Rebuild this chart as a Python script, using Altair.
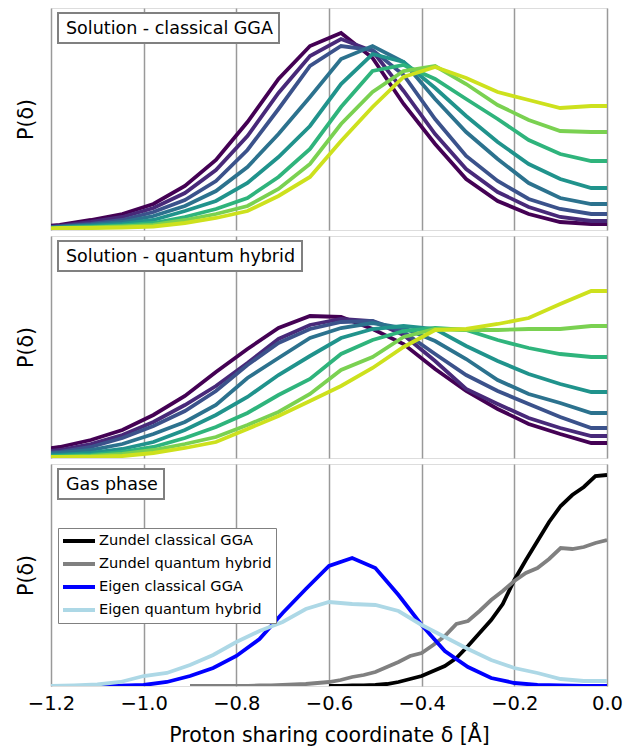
import altair as alt
import pandas as pd

FONT = "DejaVu Sans"

# ---------------- data ----------------
x_sol = [-1.249, -1.181, -1.114, -1.046, -0.979, -0.911, -0.844, -0.776, -0.709, -0.641,
         -0.574, -0.506, -0.439, -0.371, -0.304, -0.236, -0.169, -0.101, -0.034, 0.034]

sol_names = ["c0", "c1", "c2", "c3", "c4", "c5", "c6", "c7"]
sol_colors = ["#440154", "#482979", "#3b528b", "#2c728e", "#20938c", "#2fb47c", "#7ad151", "#cde11d"]

gga_c0 = [0.025, 0.05, 0.10, 0.16, 0.26, 0.44, 0.70, 1.08, 1.51, 1.84, 1.97, 1.72, 1.26, 0.86, 0.51, 0.29, 0.16, 0.08, 0.06, 0.06]
gga_c1 = [0.015, 0.04, 0.08, 0.13, 0.22, 0.37, 0.60, 0.94, 1.37, 1.74, 1.91, 1.79, 1.39, 0.96, 0.61, 0.38, 0.23, 0.13, 0.09, 0.09]
gga_c2 = [0.015, 0.035, 0.06, 0.10, 0.18, 0.30, 0.49, 0.80, 1.21, 1.64, 1.84, 1.80, 1.55, 1.11, 0.74, 0.49, 0.31, 0.21, 0.16, 0.16]
gga_c3 = [0.015, 0.03, 0.05, 0.08, 0.14, 0.24, 0.39, 0.63, 0.96, 1.33, 1.71, 1.84, 1.68, 1.31, 0.98, 0.71, 0.47, 0.32, 0.26, 0.26]
gga_c4 = [0.01, 0.025, 0.04, 0.06, 0.10, 0.19, 0.29, 0.47, 0.73, 1.04, 1.46, 1.76, 1.68, 1.42, 1.14, 0.88, 0.66, 0.51, 0.42, 0.42]
gga_c5 = [0.01, 0.02, 0.03, 0.045, 0.07, 0.13, 0.21, 0.32, 0.53, 0.81, 1.23, 1.59, 1.65, 1.51, 1.31, 1.11, 0.90, 0.76, 0.69, 0.69]
gga_c6 = [0.01, 0.02, 0.025, 0.035, 0.05, 0.10, 0.16, 0.24, 0.41, 0.66, 1.06, 1.38, 1.59, 1.64, 1.46, 1.25, 1.10, 0.99, 0.98, 0.98]
gga_c7 = [0.01, 0.02, 0.02, 0.025, 0.035, 0.07, 0.12, 0.19, 0.34, 0.53, 0.89, 1.23, 1.53, 1.63, 1.52, 1.38, 1.30, 1.22, 1.24, 1.24]

qh_c0 = [0.07, 0.11, 0.18, 0.28, 0.43, 0.62, 0.86, 1.09, 1.30, 1.42, 1.41, 1.29, 1.14, 0.89, 0.67, 0.49, 0.34, 0.24, 0.15, 0.15]
qh_c1 = [0.05, 0.08, 0.14, 0.23, 0.36, 0.53, 0.72, 0.95, 1.19, 1.33, 1.39, 1.37, 1.23, 0.97, 0.69, 0.54, 0.40, 0.30, 0.22, 0.22]
qh_c2 = [0.04, 0.06, 0.11, 0.20, 0.32, 0.47, 0.67, 0.93, 1.15, 1.29, 1.36, 1.37, 1.26, 1.04, 0.83, 0.67, 0.54, 0.41, 0.30, 0.30]
qh_c3 = [0.03, 0.05, 0.08, 0.14, 0.24, 0.36, 0.53, 0.80, 1.00, 1.20, 1.30, 1.35, 1.30, 1.17, 0.99, 0.78, 0.64, 0.55, 0.45, 0.45]
qh_c4 = [0.02, 0.03, 0.05, 0.09, 0.16, 0.28, 0.43, 0.61, 0.83, 1.02, 1.20, 1.29, 1.32, 1.29, 1.12, 0.97, 0.84, 0.74, 0.66, 0.66]
qh_c5 = [0.01, 0.02, 0.03, 0.06, 0.11, 0.20, 0.31, 0.45, 0.63, 0.79, 1.04, 1.18, 1.27, 1.30, 1.28, 1.18, 1.10, 1.04, 1.01, 1.01]
qh_c6 = [0.01, 0.01, 0.02, 0.04, 0.08, 0.14, 0.21, 0.33, 0.46, 0.64, 0.88, 1.01, 1.21, 1.29, 1.28, 1.28, 1.29, 1.29, 1.32, 1.32]
qh_c7 = [0.01, 0.01, 0.01, 0.02, 0.05, 0.10, 0.16, 0.29, 0.42, 0.57, 0.72, 0.90, 1.11, 1.28, 1.29, 1.34, 1.40, 1.54, 1.67, 1.67]

sol_gga = [gga_c0, gga_c1, gga_c2, gga_c3, gga_c4, gga_c5, gga_c6, gga_c7]
sol_qh = [qh_c0, qh_c1, qh_c2, qh_c3, qh_c4, qh_c5, qh_c6, qh_c7]

x_eigen = [-1.2, -1.15, -1.1, -1.05, -1.0, -0.95, -0.9, -0.85, -0.8, -0.75, -0.7, -0.65, -0.6,
           -0.55, -0.5, -0.45, -0.4, -0.35, -0.3, -0.25, -0.2, -0.15, -0.1, -0.05, 0.0]
eigen_gga = [0, 0, 0, 0.003, 0.01, 0.04, 0.10, 0.18, 0.30, 0.47, 0.73, 0.97, 1.20,
             1.28, 1.18, 0.91, 0.61, 0.35, 0.19, 0.08, 0.03, 0.01, 0.005, 0.002, 0]
eigen_qh = [0, 0.005, 0.015, 0.04, 0.10, 0.13, 0.21, 0.31, 0.44, 0.55, 0.64, 0.77, 0.84,
            0.82, 0.81, 0.75, 0.61, 0.49, 0.37, 0.26, 0.18, 0.13, 0.07, 0.05, 0.05]

x_zundel_gga = [-0.6, -0.575, -0.55, -0.525, -0.5, -0.475, -0.45, -0.425, -0.4, -0.375, -0.35, -0.325,
                -0.3, -0.275, -0.25, -0.225, -0.2, -0.175, -0.15, -0.125, -0.1, -0.075, -0.05, -0.025, 0.0]
zundel_gga = [0, 0, 0.005, 0.005, 0.01, 0.02, 0.04, 0.07, 0.10, 0.15, 0.20, 0.28,
              0.40, 0.53, 0.66, 0.82, 1.06, 1.26, 1.45, 1.64, 1.80, 1.91, 1.99, 2.10, 2.11]

x_zundel_qh = [-0.9, -0.875, -0.85, -0.825, -0.8, -0.775, -0.75, -0.725, -0.7, -0.675, -0.65, -0.625,
               -0.6, -0.575, -0.55, -0.525, -0.5, -0.475, -0.45, -0.425, -0.4, -0.375, -0.35, -0.325,
               -0.3, -0.275, -0.25, -0.225, -0.2, -0.175, -0.15, -0.125, -0.1, -0.075, -0.05, -0.025, 0.0]
zundel_qh = [0, 0, 0, 0, 0, 0, 0.005, 0.005, 0.01, 0.015, 0.02, 0.03,
             0.04, 0.06, 0.09, 0.11, 0.14, 0.19, 0.24, 0.30, 0.33, 0.41, 0.50, 0.62,
             0.65, 0.75, 0.86, 0.95, 1.05, 1.13, 1.18, 1.27, 1.38, 1.37, 1.39, 1.43, 1.46]

gas_names = ["Zundel classical GGA", "Zundel quantum hybrid", "Eigen classical GGA", "Eigen quantum hybrid"]
gas_colors = ["#000000", "#808080", "#0000ff", "#add8e6"]

panel_titles = ["Solution - classical GGA", "Solution - quantum hybrid", "Gas phase"]
x_ticks = [-1.2, -1.0, -0.8, -0.6, -0.4, -0.2, 0.0]

# ---------------- layout ----------------
W, H = 556, 222
YMAX = 2.22
GRID = "#999999"
LW = 3.8
TICK_FS = 19.5
TITLE_FS = 20.5


def x_axis(show):
    if show:
        return alt.Axis(values=x_ticks, format=".1f", grid=True, gridColor=GRID, gridWidth=1.5,
                        ticks=False, domain=False, labelFontSize=TICK_FS, labelFont=FONT,
                        labelColor="black", labelPadding=8, labelFlush=False,
                        labelOverlap=False,
                        title="Proton sharing coordinate δ [Å]", titleFontSize=TITLE_FS,
                        titleFont=FONT, titleFontWeight="normal", titleColor="black",
                        titlePadding=13)
    return alt.Axis(values=x_ticks, grid=True, gridColor=GRID, gridWidth=1.5, ticks=False,
                    domain=False, labels=False, title=None)


y_axis = alt.Axis(labels=False, ticks=False, domain=False, grid=False, title="P(δ)",
                  titleFontSize=TITLE_FS, titleFont=FONT, titleFontWeight="normal",
                  titleColor="black", titlePadding=15)

xs = alt.Scale(domain=[-1.2, 0.0], nice=False, zero=False)
ys = alt.Scale(domain=[0, YMAX], nice=False, zero=False)


def label_box(title, box_right):
    d = pd.DataFrame({"t": [title]})
    box = alt.Chart(d).mark_rect(fill="white", stroke="#808080", strokeWidth=2).encode(
        x=alt.value(7), x2=alt.value(box_right), y=alt.value(5), y2=alt.value(35))
    txt = alt.Chart(d).mark_text(align="left", baseline="alphabetic", fontSize=17.5,
                                 font=FONT, color="black").encode(
        x=alt.value(15), y=alt.value(26), text="t:N")
    return box, txt


def sol_panel(curves, title, box_right):
    rows = []
    for name, vals in zip(sol_names, curves):
        for xv, yv in zip(x_sol, vals):
            rows.append({"delta": xv, "P": yv, "curve": name})
    df = pd.DataFrame(rows)
    lines = alt.Chart(df).mark_line(strokeWidth=LW, clip=True).encode(
        x=alt.X("delta:Q", scale=xs, axis=x_axis(False)),
        y=alt.Y("P:Q", scale=ys, axis=y_axis),
        color=alt.Color("curve:N", scale=alt.Scale(domain=sol_names, range=sol_colors), legend=None),
    )
    box, txt = label_box(title, box_right)
    return alt.layer(lines, box, txt).properties(width=W, height=H)


top = sol_panel(sol_gga, panel_titles[0], 228)
mid = sol_panel(sol_qh, panel_titles[1], 251)

gas_rows = []
for name, xv_list, yv_list in zip(gas_names,
                                  [x_zundel_gga, x_zundel_qh, x_eigen, x_eigen],
                                  [zundel_gga, zundel_qh, eigen_gga, eigen_qh]):
    for xv, yv in zip(xv_list, yv_list):
        gas_rows.append({"delta": xv, "P": yv, "system": name})
gas_df = pd.DataFrame(gas_rows)

gas_legend = alt.Legend(title=None, orient="none", legendX=7, legendY=64,
                        symbolType="stroke", symbolSize=1024, symbolStrokeWidth=4,
                        clipHeight=18, rowPadding=5, padding=4, symbolOffset=-1,
                        labelOffset=2, labelFontSize=14.6, labelFont=FONT,
                        labelColor="black", strokeColor="#808080", fillColor="white",
                        labelLimit=0)

gas_lines = alt.Chart(gas_df).mark_line(strokeWidth=LW, clip=True).encode(
    x=alt.X("delta:Q", scale=xs, axis=x_axis(True)),
    y=alt.Y("P:Q", scale=ys, axis=y_axis),
    color=alt.Color("system:N", scale=alt.Scale(domain=gas_names, range=gas_colors),
                    legend=gas_legend),
)
gbox, gtxt = label_box(panel_titles[2], 113)
bot = alt.layer(gas_lines, gbox, gtxt).properties(width=W, height=H)

chart = alt.vconcat(top, mid, bot, spacing=4).resolve_scale(
    color="independent"
).properties(
    padding={"left": 15, "top": 7, "right": 5, "bottom": 5},
    background="white",
).configure_view(
    stroke="black", strokeWidth=2
).configure_legend(
    strokeWidth=2
).configure(font=FONT)

chart.save("out.html", embed_options={"renderer": "svg", "actions": False})
